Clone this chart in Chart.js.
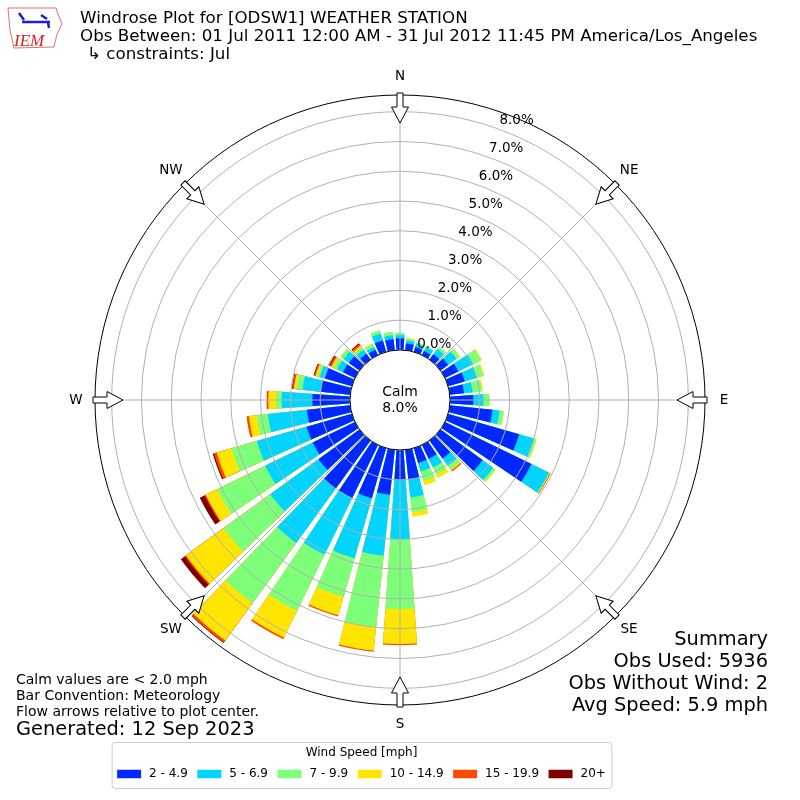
<!DOCTYPE html>
<html>
<head>
<meta charset="utf-8">
<title>Windrose Plot for [ODSW1] WEATHER STATION</title>
<script src="https://cdn.jsdelivr.net/npm/chart.js@4.4.0/dist/chart.umd.min.js"></script>
<style>
  html, body { margin: 0; padding: 0; background: #fff; }
  #wrap { width: 800px; height: 800px; }
</style>
</head>
<body>
<div id="wrap"><canvas id="rose" width="800" height="800"></canvas></div>
<script>
// direction bins (degrees, meteorological, clockwise from north)
const directions = [0, 10, 20, 30, 40, 50, 60, 70, 80, 90, 100, 110, 120, 130, 140, 150, 160, 170,
  180, 190, 200, 210, 220, 230, 240, 250, 260, 270, 280, 290, 300, 310, 320, 330, 340, 350];

const speedBins = ['2 - 4.9', '5 - 6.9', '7 - 9.9', '10 - 14.9', '15 - 19.9', '20+'];
const binColors = ['#0028ff', '#00d4ff', '#7dff7a', '#ffe500', '#ff4800', '#800000'];

// frequency (%) of each speed bin per direction
const pct2to5 = [0.39, 0.23, 0.17, 0.15, 0.22, 0.32, 0.50, 0.58, 0.48, 0.78, 1.44, 2.48, 3.23, 1.75, 0.75, 0.52, 0.52, 1.00,
  1.00, 1.52, 1.75, 1.98, 2.00, 1.70, 1.58, 1.58, 1.46, 1.26, 0.99, 0.94, 0.45, 0.44, 0.24, 0.20, 0.40, 0.37];
const pct5to7 = [0.11, 0.10, 0.12, 0.15, 0.22, 0.35, 0.55, 0.42, 0.29, 0.34, 0.24, 0.52, 0.65, 0.44, 0.30, 0.32, 0.30, 0.61,
  2.00, 2.06, 2.10, 2.12, 2.25, 2.00, 1.78, 1.74, 1.32, 1.03, 0.62, 0.18, 0.22, 0.22, 0.17, 0.11, 0.24, 0.14];
const pct7to10 = [0.08, 0.07, 0.06, 0.04, 0.10, 0.13, 0.30, 0.24, 0.31, 0.20, 0.14, 0.08, 0.02, 0.08, 0.15, 0.26, 0.33, 0.49,
  2.34, 2.41, 1.35, 2.10, 2.50, 1.94, 1.79, 0.88, 0.37, 0.19, 0.20, 0.08, 0.13, 0.12, 0.09, 0.11, 0.12, 0.12];
const pct10to15 = [0, 0.02, 0, 0, 0, 0.01, 0.03, 0.03, 0.04, 0.01, 0.01, 0.02, 0.02, 0.03, 0.05, 0.13, 0.15, 0.16,
  1.17, 0.79, 0.64, 1.00, 1.55, 1.56, 0.43, 0.52, 0.27, 0.26, 0.09, 0.07, 0.08, 0.02, 0.07, 0.02, 0, 0];
const pct15to20 = [0, 0, 0, 0, 0, 0, 0, 0, 0, 0, 0, 0, 0.03, 0, 0.04, 0, 0, 0,
  0.04, 0.04, 0.04, 0.06, 0.08, 0.05, 0.04, 0.10, 0.08, 0.06, 0.05, 0.05, 0.06, 0, 0.07, 0, 0, 0];
const pct20up = [0, 0, 0, 0, 0, 0, 0, 0, 0, 0, 0, 0, 0, 0, 0, 0, 0, 0,
  0, 0, 0, 0, 0.02, 0.17, 0.18, 0.04, 0, 0, 0.02, 0.02, 0.04, 0, 0.03, 0, 0, 0];

const calmPct = 8.0;
const ringTicks = [0, 1, 2, 3, 4, 5, 6, 7, 8];
const compassNames = ['N', 'NE', 'E', 'SE', 'S', 'SW', 'W', 'NW'];
const compassDeg = [0, 45, 90, 135, 180, 225, 270, 315];

const titleLines = [
  'Windrose Plot for [ODSW1] WEATHER STATION',
  'Obs Between: 01 Jul 2011 12:00 AM - 31 Jul 2012 11:45 PM America/Los_Angeles',
  '\u21b3 constraints: Jul'
];
const notes = ['Calm values are < 2.0 mph', 'Bar Convention: Meteorology', 'Flow arrows relative to plot center.'];
const generated = 'Generated: 12 Sep 2023';
const summary = ['Summary', 'Obs Used: 5936', 'Obs Without Wind: 2', 'Avg Speed: 5.9 mph'];

// radial axis limits: 0% sits on the edge of the calm circle
const rMin = -1.68;
const rMax = 8.56;
const barAngle = 8; // of every 10 degree sector

Chart.defaults.font.family = '"DejaVu Sans", sans-serif';

const binValues = [pct2to5, pct5to7, pct7to10, pct10to15, pct15to20, pct20up];
// running totals so each bin starts where the slower ones end
const stacked = binValues.map((_, k) =>
  directions.map((d, i) => binValues.slice(0, k + 1).reduce((sum, arr) => sum + arr[i], 0)));

const labels = directions.flatMap(d => [d + '\u00b0', '']);

const datasets = speedBins.map((name, k) => ({
  label: name,
  data: directions.flatMap((d, i) => [binValues[k][i] > 0 ? stacked[k][i] : null, null]),
  backgroundColor: c => (c.dataIndex % 2 ? 'rgba(0,0,0,0)' : binColors[k]),
  borderWidth: 0,
  angle: c => (c.dataIndex % 2 ? 10 - barAngle : barAngle)
}));

function toRad(deg) { return deg * Math.PI / 180; }

// everything matplotlib draws around the rose
const roseDecor = {
  id: 'roseDecor',
  afterDraw(chart) {
    const ctx = chart.ctx;
    const s = chart.scales.r;
    const cx = s.xCenter, cy = s.yCenter, R = s.drawingArea;
    const r0 = s.getDistanceFromCenterForValue(0);
    ctx.save();

    // spokes
    ctx.strokeStyle = '#b0b0b0';
    ctx.lineWidth = 1;
    compassDeg.forEach(deg => {
      const a = toRad(deg);
      ctx.beginPath();
      ctx.moveTo(cx, cy);
      ctx.lineTo(cx + R * Math.sin(a), cy - R * Math.cos(a));
      ctx.stroke();
    });

    // outer frame
    ctx.strokeStyle = '#000';
    ctx.beginPath();
    ctx.arc(cx, cy, R, 0, Math.PI * 2);
    ctx.stroke();

    // calm circle
    ctx.fillStyle = '#fff';
    ctx.beginPath();
    ctx.arc(cx, cy, r0, 0, Math.PI * 2);
    ctx.fill();
    ctx.stroke();
    ctx.fillStyle = '#000';
    ctx.font = '13.9px "DejaVu Sans"';
    ctx.textAlign = 'center';
    ctx.textBaseline = 'middle';
    ctx.fillText('Calm', cx, cy - 8);
    ctx.fillText(calmPct.toFixed(1) + '%', cx, cy + 8);

    // ring labels
    ctx.font = '13.5px "DejaVu Sans"';
    const la = toRad(20.2);
    ringTicks.forEach(v => {
      const r = s.getDistanceFromCenterForValue(v);
      ctx.fillText(v.toFixed(1) + '%', cx + r * Math.sin(la) + 17, cy - r * Math.cos(la) - 9);
    });

    // flow arrows and compass labels
    compassDeg.forEach((deg, i) => {
      const a = toRad(deg);
      ctx.save();
      ctx.translate(cx + R * Math.sin(a), cy - R * Math.cos(a));
      ctx.rotate(a);
      ctx.beginPath();
      ctx.moveTo(-3, -2);
      ctx.lineTo(3, -2);
      ctx.lineTo(3, 12);
      ctx.lineTo(8.5, 12);
      ctx.lineTo(0, 28);
      ctx.lineTo(-8.5, 12);
      ctx.lineTo(-3, 12);
      ctx.closePath();
      ctx.fillStyle = '#fff';
      ctx.fill();
      ctx.strokeStyle = '#000';
      ctx.stroke();
      ctx.restore();
      ctx.fillStyle = '#000';
      ctx.fillText(compassNames[i], cx + (R + 19) * Math.sin(a), cy - (R + 19) * Math.cos(a));
    });

    // logo
    ctx.strokeStyle = '#e07070';
    ctx.lineWidth = 1;
    ctx.beginPath();
    ctx.moveTo(8, 8); ctx.lineTo(56, 8); ctx.lineTo(58, 14); ctx.lineTo(62, 24);
    ctx.lineTo(57, 34); ctx.lineTo(54, 47); ctx.lineTo(14, 48); ctx.lineTo(10, 30);
    ctx.closePath();
    ctx.stroke();
    ctx.strokeStyle = '#1a22c8';
    ctx.lineWidth = 2.5;
    ctx.beginPath();
    ctx.moveTo(22, 22); ctx.lineTo(50, 22);
    ctx.moveTo(19, 13); ctx.lineTo(24, 20);
    ctx.moveTo(41, 15); ctx.lineTo(47, 19);
    ctx.moveTo(48, 22); ctx.lineTo(49, 28);
    ctx.stroke();
    ctx.fillStyle = '#d42020';
    ctx.font = 'italic 17px "Liberation Serif"';
    ctx.textAlign = 'left';
    ctx.textBaseline = 'alphabetic';
    ctx.fillText('IEM', 14, 46);

    // header
    ctx.fillStyle = '#000';
    ctx.font = '16.7px "DejaVu Sans"';
    ctx.textBaseline = 'middle';
    ctx.fillText(titleLines[0], 80, 19);
    ctx.fillText(titleLines[1], 80, 37);
    ctx.fillText(titleLines[2], 87, 55);

    // footnotes
    ctx.font = '14px "DejaVu Sans"';
    notes.forEach((t, i) => ctx.fillText(t, 16, 680 + i * 16));
    ctx.font = '19.4px "DejaVu Sans"';
    ctx.fillText(generated, 16, 730);

    // summary block
    ctx.textAlign = 'right';
    summary.forEach((t, i) => ctx.fillText(t, 768, 640 + i * 22));

    // legend
    ctx.font = '12px "DejaVu Sans"';
    ctx.textAlign = 'left';
    const boxW = 24, boxH = 8.5, gapText = 8, gapItem = 9.5;
    const widths = speedBins.map(t => ctx.measureText(t).width);
    const rowW = widths.reduce((acc, w) => acc + boxW + gapText + w, 0) + gapItem * (speedBins.length - 1);
    const legendCx = 361.5;
    let x = legendCx - rowW / 2;
    const frameL = x - 5, frameR = x + rowW + 6;
    ctx.fillStyle = '#fff';
    ctx.strokeStyle = '#cccccc';
    ctx.lineWidth = 1;
    ctx.beginPath();
    ctx.roundRect(frameL, 742.5, frameR - frameL, 46, 3);
    ctx.fill();
    ctx.stroke();
    ctx.fillStyle = '#000';
    ctx.textAlign = 'center';
    ctx.fillText('Wind Speed [mph]', legendCx, 753);
    ctx.textAlign = 'left';
    speedBins.forEach((t, k) => {
      ctx.fillStyle = binColors[k];
      ctx.fillRect(x, 774 - boxH / 2, boxW, boxH);
      ctx.fillStyle = '#000';
      ctx.fillText(t, x + boxW + gapText, 774);
      x += boxW + gapText + widths[k] + gapItem;
    });

    ctx.restore();
  }
};

new Chart(document.getElementById('rose'), {
  type: 'polarArea',
  data: { labels: labels, datasets: datasets },
  options: {
    responsive: false,
    animation: false,
    layout: { padding: 95 },
    plugins: {
      legend: { display: false },
      tooltip: { enabled: false }
    },
    scales: {
      r: {
        min: rMin,
        max: rMax,
        startAngle: -barAngle / 2,
        afterBuildTicks: scale => { scale.ticks = ringTicks.map(v => ({ value: v })); },
        ticks: { display: false },
        grid: { circular: true, color: '#b0b0b0', lineWidth: 1, z: 1 },
        angleLines: { display: false },
        pointLabels: { display: false }
      }
    }
  },
  plugins: [roseDecor]
});
</script>
</body>
</html>
